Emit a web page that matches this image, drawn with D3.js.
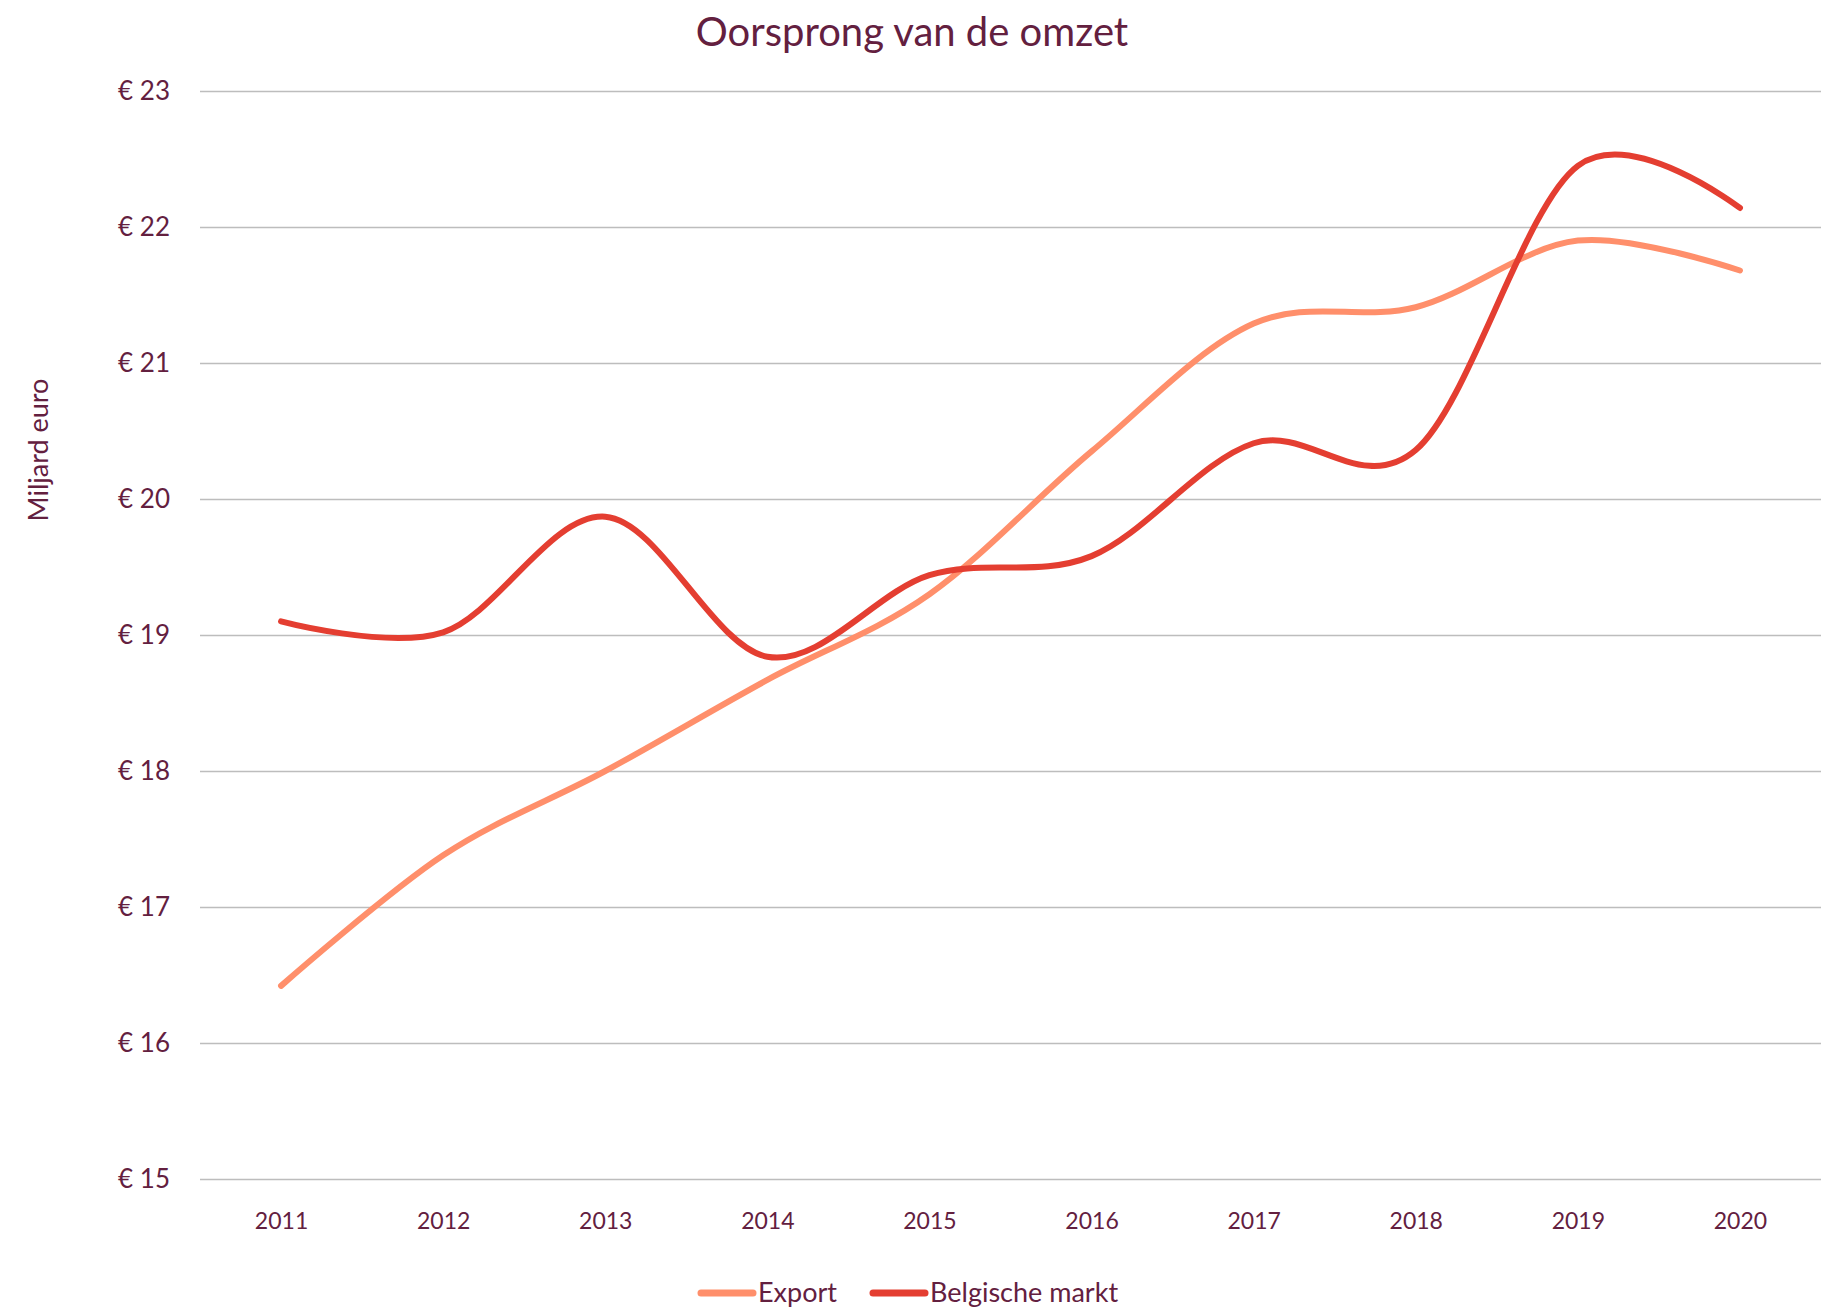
<!DOCTYPE html>
<meta charset="utf-8">
<style>
  body { margin: 0; background: #fff; }
  text { font-family: Lato, "Noto Sans", sans-serif; fill: #63203f; }
</style>
<body>
  <svg id="chart" width="1821" height="1311"></svg>

  <script src="https://cdnjs.cloudflare.com/ajax/libs/d3/7.8.5/d3.min.js"></script>
  <script>

    // data (miljard euro)
    var years = ['2011', '2012', '2013', '2014', '2015', '2016', '2017', '2018', '2019', '2020']
    var exportValues = [16.42, 17.38, 18.0, 18.67, 19.3, 20.35, 21.29, 21.41, 21.9, 21.68]
    var belgValues = [19.1, 19.02, 19.87, 18.84, 19.44, 19.58, 20.41, 20.36, 22.45, 22.14]
    var yTicks = [15, 16, 17, 18, 19, 20, 21, 22, 23]

    var series = [
      { name: 'Export', values: exportValues, color: '#ff8f6b' },
      { name: 'Belgische markt', values: belgValues, color: '#e43e31' }
    ]

    // plot area (note: "top" is reserved on window, so use m* names)
    var mLeft = 200, mRight = 1821, mTop = 91, mBottom = 1179

    var svg = d3.select('#chart')

    var x = d3.scalePoint().domain(years).range([mLeft, mRight]).padding(0.5)
    var y = d3.scaleLinear().domain([15, 23]).range([mBottom, mTop])

    // gridlines + y labels
    var yAxis = svg.append('g')
      .attr('transform', 'translate(' + mLeft + ',0)')
      .call(d3.axisLeft(y).tickValues(yTicks)
        .tickSizeInner(-(mRight - mLeft)).tickSizeOuter(0)
        .tickPadding(30)
        .tickFormat(d => '€ ' + d))
    yAxis.select('.domain').remove()
    yAxis.selectAll('line').attr('stroke', '#bdbdbd').attr('stroke-width', 1.6)
    yAxis.selectAll('text').style('font-size', '26px').attr('fill', '#63203f')

    // x labels
    var xAxis = svg.append('g')
      .attr('transform', 'translate(0,' + mBottom + ')')
      .call(d3.axisBottom(x).tickSize(0).tickPadding(34))
    xAxis.select('.domain').remove()
    xAxis.selectAll('text').style('font-size', '23px').attr('fill', '#63203f')

    // lines
    var line = d3.line()
      .x((d, i) => x(years[i]))
      .y(d => y(d))
      .curve(d3.curveCardinal.tension(0))

    svg.selectAll('path.series')
      .data(series)
      .join('path')
      .attr('class', 'series')
      .attr('d', d => line(d.values))
      .attr('fill', 'none')
      .attr('stroke', d => d.color)
      .attr('stroke-width', 6)
      .attr('stroke-linecap', 'round')

    // title
    svg.append('text')
      .attr('x', 912)
      .attr('y', 46)
      .attr('text-anchor', 'middle')
      .style('font-size', '40px')
      .text('Oorsprong van de omzet')

    // y axis title
    svg.append('text')
      .attr('transform', 'translate(48,450) rotate(-90)')
      .attr('text-anchor', 'middle')
      .style('font-size', '27px')
      .text('Miljard euro')

    // legend
    var legend = svg.append('g').attr('transform', 'translate(0,1293)')
    var legendX = [698, 870]
    series.forEach(function (s, i) {
      var g = legend.append('g').attr('transform', 'translate(' + legendX[i] + ',0)')
      g.append('line')
        .attr('x1', 3).attr('x2', 55)
        .attr('stroke', s.color)
        .attr('stroke-width', 7)
        .attr('stroke-linecap', 'round')
      g.append('text')
        .attr('x', 60)
        .attr('dy', '0.35em')
        .style('font-size', '27px')
        .text(s.name)
    })

  </script>
</body>
